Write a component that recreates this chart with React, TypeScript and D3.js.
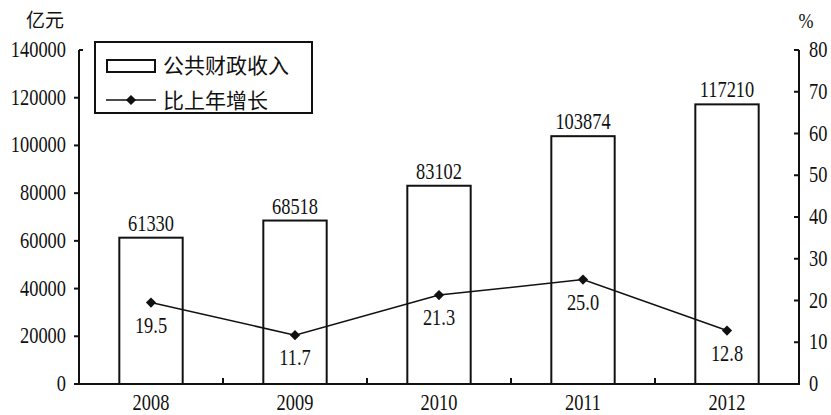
import React from 'react';
import * as d3 from 'd3';

const years = ['2008', '2009', '2010', '2011', '2012'];
const revenue = [61330, 68518, 83102, 103874, 117210];
const growth = [19.5, 11.7, 21.3, 25.0, 12.8];
const leftTicks = [0, 20000, 40000, 60000, 80000, 100000, 120000, 140000];
const rightTicks = [0, 10, 20, 30, 40, 50, 60, 70, 80];
const legendLabels = ['公共财政收入', '比上年增长'];

const W = 831;
const H = 415;
const left = 79;
const right = 799;
const top = 50;
const bottom = 384;
const NUM_FONT = '"Liberation Serif", "Times New Roman", serif';
const CJK_FONT = '"Noto Sans CJK SC", sans-serif';

type NumProps = { x: number; y: number; anchor?: 'start' | 'middle' | 'end'; children: React.ReactNode; size?: number; sx?: number };
function Num({ x, y, anchor = 'middle', children, size = 23, sx = 0.8 }: NumProps) {
  return (
    <text transform={`translate(${x},${y}) scale(${sx},1)`} textAnchor={anchor} fontFamily={NUM_FONT} fontSize={size} fill="#111">
      {children}
    </text>
  );
}

export default function App() {
  const x = d3.scaleBand<string>().domain(years).range([left, right]).paddingInner(0.56).paddingOuter(0.28);
  const yL = d3.scaleLinear().domain([0, 140000]).range([bottom, top]);
  const yR = d3.scaleLinear().domain([0, 80]).range([bottom, top]);
  const step = x.step();
  const cx = (d: string) => (x(d) as number) + x.bandwidth() / 2;
  const line = d3.line<number>().x((_, i) => cx(years[i])).y((v) => yR(v));
  const diamond = d3.symbol().type(d3.symbolSquare).size(52)();
  const bounds = years.slice(1).map((_, i) => left + step * (i + 1));

  return (
    <svg width={W} height={H} style={{ position: 'absolute', left: 0, top: 0, background: '#fff' }}>
      <rect width={W} height={H} fill="#fff" />
      {/* bars */}
      {revenue.map((v, i) => (
        <g key={years[i]}>
          <rect x={x(years[i])} y={yL(v)} width={x.bandwidth()} height={bottom - yL(v)} fill="#fff" stroke="#111" strokeWidth={2} />
          <Num x={cx(years[i])} y={yL(v) - 7}>{v}</Num>
        </g>
      ))}
      {/* line */}
      <path d={line(growth) || ''} fill="none" stroke="#111" strokeWidth={1.5} />
      {growth.map((v, i) => (
        <g key={'g' + i}>
          <path d={diamond || ''} transform={`translate(${cx(years[i])},${yR(v)}) rotate(45)`} fill="#111" />
          <Num x={cx(years[i])} y={yR(v) + 30}>{v.toFixed(1)}</Num>
        </g>
      ))}
      {/* left axis */}
      <line x1={left} x2={left} y1={top} y2={bottom} stroke="#111" strokeWidth={2} />
      {leftTicks.map((t) => (
        <g key={'l' + t}>
          <line x1={t === 140000 ? left : left - 5} x2={t === 140000 ? left + 4 : left} y1={yL(t)} y2={yL(t)} stroke="#111" strokeWidth={2} />
          <Num x={66} y={yL(t) + 7} anchor="end">{t}</Num>
        </g>
      ))}
      <text x={45} y={27} textAnchor="middle" fontFamily={CJK_FONT} fontSize={19} fill="#111">亿元</text>
      {/* right axis */}
      <line x1={right} x2={right} y1={top} y2={bottom} stroke="#111" strokeWidth={2} />
      {rightTicks.map((t) => (
        <g key={'r' + t}>
          <line x1={right - 5} x2={right} y1={yR(t)} y2={yR(t)} stroke="#111" strokeWidth={2} />
          <Num x={809} y={yR(t) + 7} anchor="start">{t}</Num>
        </g>
      ))}
      <Num x={806} y={28} size={20} sx={0.9}>%</Num>
      {/* bottom axis */}
      <line x1={left - 1} x2={right + 1} y1={bottom} y2={bottom} stroke="#111" strokeWidth={2} />
      {bounds.map((b, i) => (
        <line key={'b' + i} x1={b} x2={b} y1={bottom} y2={bottom - 6} stroke="#111" strokeWidth={2} />
      ))}
      {years.map((yv) => (
        <Num key={'y' + yv} x={cx(yv)} y={410}>{yv}</Num>
      ))}
      {/* legend */}
      <rect x={95} y={42} width={217} height={71} fill="#fff" stroke="#111" strokeWidth={2} />
      <rect x={107} y={60} width={48} height={12} fill="#fff" stroke="#111" strokeWidth={2} />
      <text x={163} y={73} fontFamily={CJK_FONT} fontSize={21} fill="#111">{legendLabels[0]}</text>
      <line x1={106} x2={156} y1={100} y2={100} stroke="#111" strokeWidth={1.5} />
      <path d={diamond || ''} transform="translate(131,100) rotate(45)" fill="#111" />
      <text x={163} y={108} fontFamily={CJK_FONT} fontSize={21} fill="#111">{legendLabels[1]}</text>
    </svg>
  );
}
